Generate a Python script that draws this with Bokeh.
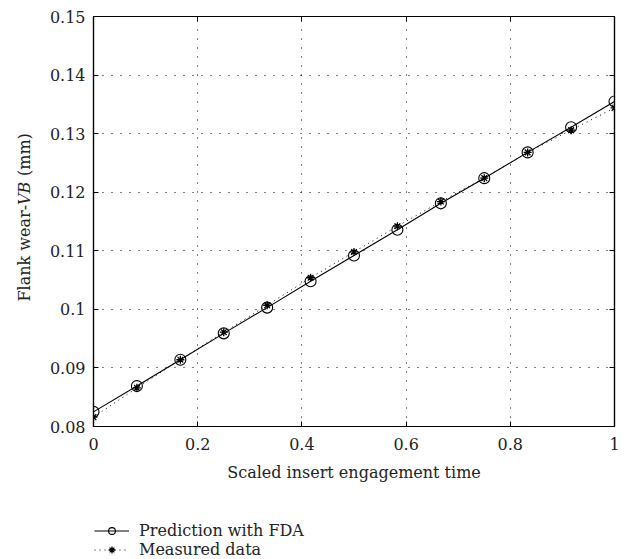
import math
from bokeh.plotting import figure
from bokeh.layouts import column, row
from bokeh.models import (Range1d, FixedTicker, LinearAxis, Legend, LegendItem,
                          Label, CustomJSTickFormatter)
from bokeh.embed import file_html
from bokeh.resources import INLINE

# ---- data ----
time_scaled = [0.0, 0.0833, 0.1667, 0.25, 0.3333, 0.4167, 0.5, 0.5833,
               0.6667, 0.75, 0.8333, 0.9167, 1.0]
prediction_fda = [0.0825, 0.0869, 0.0914, 0.0959, 0.1003, 0.1048, 0.1092,
                  0.1136, 0.1181, 0.1224, 0.1268, 0.1311, 0.1355]
measured = [0.0816, 0.0866, 0.0914, 0.0961, 0.1007, 0.1054, 0.1098,
            0.1142, 0.1184, 0.1224, 0.1268, 0.1306, 0.1344]

x_ticks = [0, 0.2, 0.4, 0.6, 0.8, 1]
x_tick_labels = ["0", "0.2", "0.4", "0.6", "0.8", "1"]
y_ticks = [0.08, 0.09, 0.1, 0.11, 0.12, 0.13, 0.14, 0.15]
y_tick_labels = ["0.08", "0.09", "0.1", "0.11", "0.12", "0.13", "0.14", "0.15"]

FONT = "DejaVu Serif"
FS = "16px"
TXT = "#222222"

# ---- main plot ----
p = figure(width=594, height=519, output_backend="svg", toolbar_location=None,
           x_range=Range1d(0, 1), y_range=Range1d(0.08, 0.15),
           min_border_left=53, min_border_right=20, min_border_top=16,
           min_border_bottom=93)
p.background_fill_color = "white"
p.border_fill_color = "white"
p.outline_line_color = "black"
p.outline_line_width = 1.2

for ax, ticks, labels in ((p.xaxis[0], x_ticks, x_tick_labels),
                          (p.yaxis[0], y_ticks, y_tick_labels)):
    ax.ticker = FixedTicker(ticks=ticks)
    ax.major_label_overrides = {t: l for t, l in zip(ticks, labels)}
    ax.major_label_text_font = FONT
    ax.major_label_text_font_size = FS
    ax.major_label_text_color = TXT
    ax.major_tick_in = 5
    ax.major_tick_out = 0
    ax.minor_tick_line_color = None
    ax.axis_line_color = "black"
    ax.axis_line_width = 1.2
    ax.major_tick_line_color = "black"
p.xaxis.major_label_standoff = 11
p.yaxis.major_label_standoff = 8

p.xaxis.axis_label = "Scaled insert engagement time"
p.xaxis.axis_label_text_font = FONT
p.xaxis.axis_label_text_font_size = FS
p.xaxis.axis_label_text_font_style = "normal"
p.xaxis.axis_label_text_color = TXT
p.xaxis.axis_label_standoff = 10

blank = CustomJSTickFormatter(code="return ''")
top = LinearAxis(ticker=FixedTicker(ticks=x_ticks), formatter=blank,
                 major_tick_in=5, major_tick_out=0, minor_tick_line_color=None,
                 major_label_standoff=0, axis_line_width=1.2)
right = LinearAxis(ticker=FixedTicker(ticks=y_ticks), formatter=blank,
                   major_tick_in=5, major_tick_out=0, minor_tick_line_color=None,
                   major_label_standoff=0, axis_line_width=1.2)
p.add_layout(top, "above")
p.add_layout(right, "right")

p.xgrid.ticker = FixedTicker(ticks=x_ticks)
p.ygrid.ticker = FixedTicker(ticks=y_ticks)
p.grid.grid_line_color = "black"
p.grid.grid_line_dash = "1 8"
p.grid.grid_line_width = 1

MEAS_LINE = dict(line_color="black", line_width=1, line_dash="1 4")
PRED_LINE = dict(line_color="black", line_width=1.1)
MEAS_PT = dict(marker="asterisk", size=8, line_color="black", line_width=1.3)
PRED_PT = dict(marker="circle", size=11, fill_color=None, line_color="black",
               line_width=1.1)

p.line(time_scaled, measured, **MEAS_LINE)
p.line(time_scaled, prediction_fda, **PRED_LINE)
p.scatter(time_scaled, measured, **MEAS_PT)
p.scatter(time_scaled, prediction_fda, **PRED_PT)

# ---- y-axis title strip (with italic VB) ----
# In the row the strip's frame is aligned with the main frame (410 px tall),
# so its y range is expressed in pixels above the frame bottom.
yl = figure(width=40, height=519, output_backend="svg", toolbar_location=None,
            x_range=Range1d(0, 40), y_range=Range1d(0, 410),
            x_axis_type=None, y_axis_type=None,
            min_border_left=0, min_border_right=0, min_border_top=16,
            min_border_bottom=93)
yl.outline_line_color = None
yl.grid.visible = False
lx = 24
y_start = 125.0      # bottom end of the title, px above frame bottom
w_first = 96.5       # width of "Flank wear-"
w_vb = 24.0          # width of italic "VB"
w_space = 5.0
common = dict(angle=math.pi / 2, text_font=FONT, text_font_size=FS,
              text_color=TXT, text_baseline="middle")
yl.add_layout(Label(x=lx, y=y_start, text="Flank wear-", text_align="left", **common))
yl.add_layout(Label(x=lx, y=y_start + w_first, text="VB", text_align="left",
                    text_font_style="italic", **common))
yl.add_layout(Label(x=lx, y=y_start + w_first + w_vb + w_space, text="(mm)",
                    text_align="left", **common))

# ---- legend strip ----
lg = figure(width=634, height=40, output_backend="svg", toolbar_location=None,
            x_range=Range1d(5, 6), y_range=Range1d(5, 6),
            x_axis_type=None, y_axis_type=None,
            min_border_left=0, min_border_right=0, min_border_top=0,
            min_border_bottom=0)
lg.outline_line_color = None
lg.grid.visible = False
# proxies (out of the strip's visible range) that only feed the legend samples
lp_line = lg.line(time_scaled, prediction_fda, **PRED_LINE)
lp_pt = lg.scatter(time_scaled, prediction_fda, **PRED_PT)
lm_line = lg.line(time_scaled, measured, **MEAS_LINE)
lm_pt = lg.scatter(time_scaled, measured, **MEAS_PT)

legend = Legend(items=[
    LegendItem(label="Prediction with FDA", renderers=[lp_line, lp_pt]),
    LegendItem(label="Measured data", renderers=[lm_line, lm_pt]),
], location=(94, 0))
legend.label_text_font = FONT
legend.label_text_font_size = FS
legend.label_text_color = TXT
legend.glyph_width = 35
legend.glyph_height = 17
legend.label_height = 17
legend.spacing = 0
legend.padding = 0
legend.margin = 0
legend.label_standoff = 10
legend.border_line_color = None
legend.background_fill_alpha = 0
lg.add_layout(legend, "center")

layout = column(row(yl, p, spacing=0), lg, spacing=0)
open("out.html", "w").write(file_html(layout, INLINE))
